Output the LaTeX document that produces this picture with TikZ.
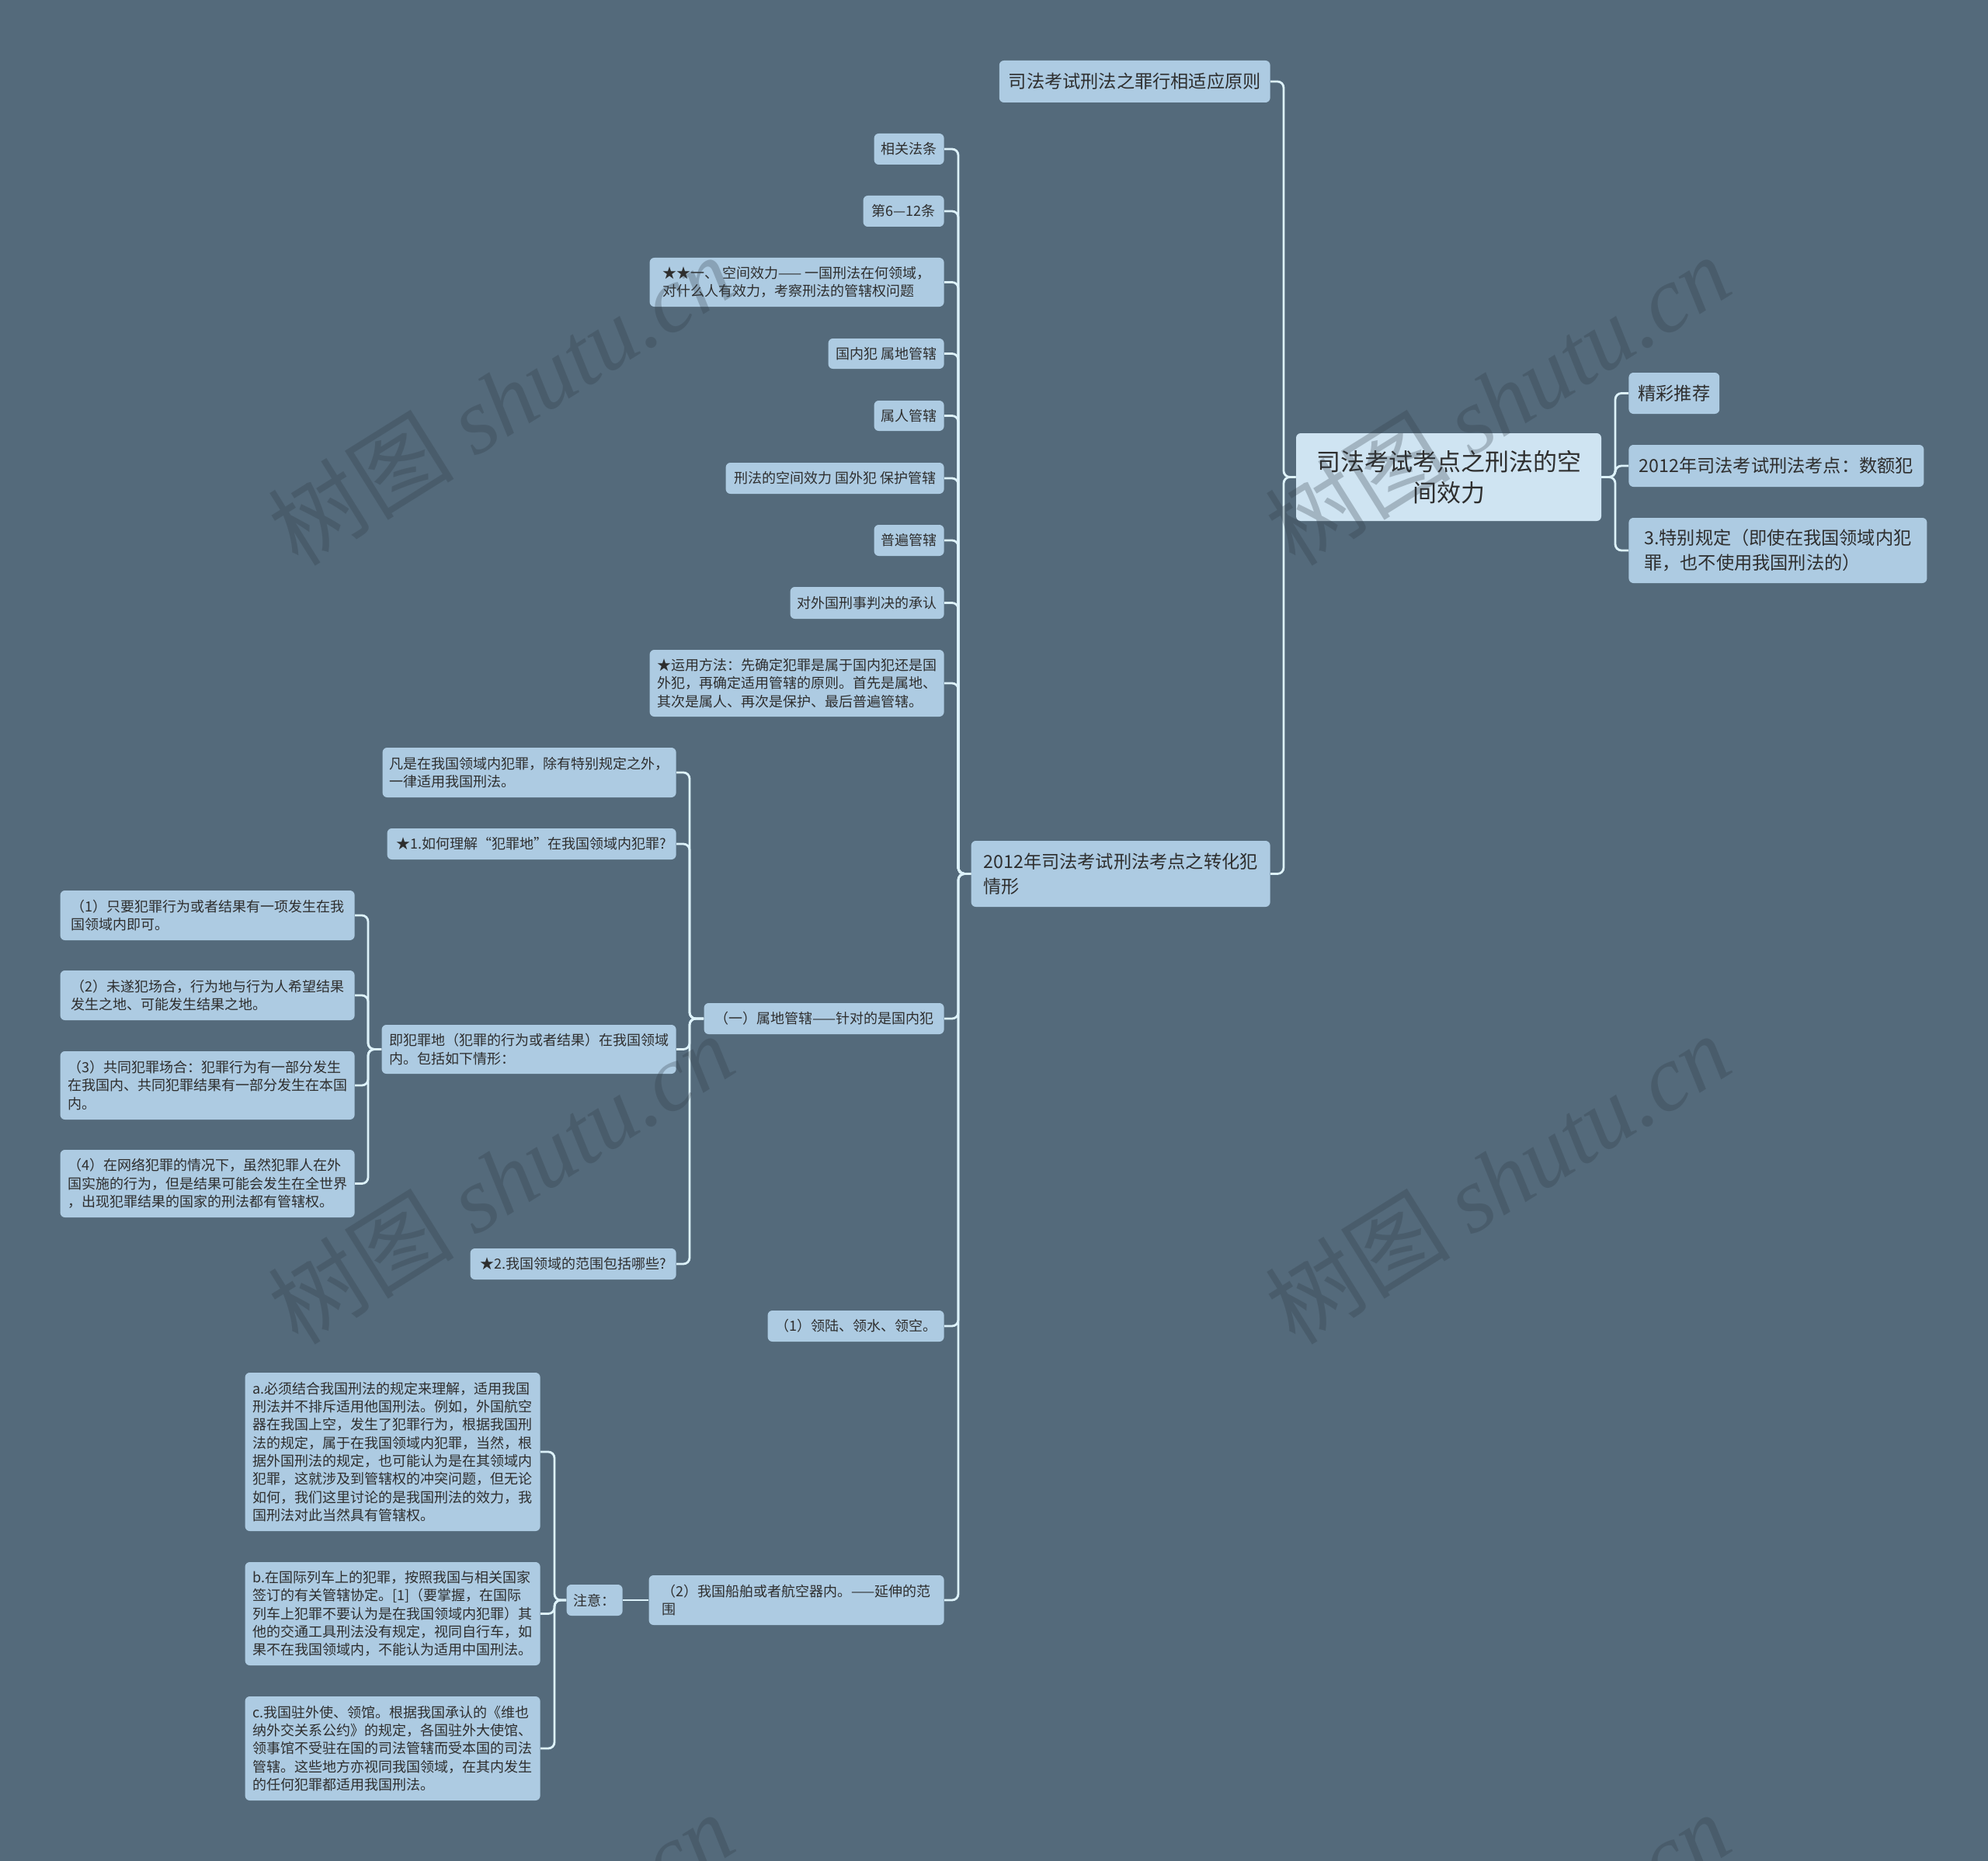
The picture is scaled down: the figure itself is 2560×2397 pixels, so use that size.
\documentclass[tikz,border=0pt]{standalone}
\usepackage{fontspec}
\setmainfont{Noto Sans CJK SC}
\newfontfamily\wmlatin{Liberation Serif}
\definecolor{bgc}{HTML}{546A7B}
\definecolor{nodec}{HTML}{ADCBE2}
\definecolor{rootc}{HTML}{CFE4F2}
\definecolor{linec}{HTML}{DDF2FA}
\definecolor{txtc}{HTML}{2E2E2E}
\definecolor{wmc}{HTML}{2F3B45}
\tikzset{
  box/.style={draw=none, fill=nodec, rounded corners=3pt, text=txtc, inner xsep=4.5pt, inner ysep=0pt, align=left},
  sm/.style={box, font=\fontsize{9pt}{11.65pt}\selectfont},
  md/.style={box, font=\fontsize{11.6pt}{15.85pt}\selectfont, inner xsep=6pt},
  rt/.style={box, fill=rootc, font=\fontsize{15.5pt}{20pt}\selectfont, align=center},
  sz/.style 2 args={minimum width=#1*0.5pt, minimum height=#2*0.5pt},
  conn/.style={draw=linec, line width=1.4pt, rounded corners=4pt},
  wm/.style={text=wmc, text opacity=0.28, font=\fontsize{60pt}{60pt}\selectfont, inner sep=0pt},
}
\begin{document}
\begin{tikzpicture}[x=0.5pt, y=-0.5pt]
\useasboundingbox (0,0) rectangle (2560,2397);
\clip (0,0) rectangle (2560,2397);
\fill[bgc] (0,0) rectangle (2560,2397);

% vertical connector lines
\coordinate (vR) at (2080,0);
\coordinate (vL1) at (1653,0);
\coordinate (vL2) at (1234,0);
\coordinate (vL3) at (888,0);
\coordinate (vL4) at (474,0);
\coordinate (vL5) at (714,0);

% root and right side
\node[rt, sz={393}{113}] (root) at (1865.5,614.5) {司法考试考点之刑法的空\\间效力};
\node[md, sz={115}{53}, anchor=west] (r1) at (2097,506.5) {精彩推荐};
\node[md, sz={380}{54}, anchor=west] (r2) at (2097,600) {2012年司法考试刑法考点：数额犯};
\node[md, sz={384}{84}, anchor=west] (r3) at (2097,709) {3.特别规定（即使在我国领域内犯\\罪，也不使用我国刑法的）};

% left level 1
\node[md, sz={348}{54}, anchor=east] (l1) at (1636,105) {司法考试刑法之罪行相适应原则};
\node[md, sz={385}{85}, anchor=east] (l2) at (1636,1125.5) {2012年司法考试刑法考点之转化犯\\情形};

% level 2
\node[sm, sz={89}{40}, anchor=east] (n1) at (1216,192) {相关法条};
\node[sm, sz={104}{40}, anchor=east] (n2) at (1216,272) {第6—12条};
\node[sm, sz={379}{63}, anchor=east] (n3) at (1216,363.5) {★★一、 空间效力—— 一国刑法在何领域，\\对什么人有效力，考察刑法的管辖权问题};
\node[sm, sz={149}{39}, anchor=east] (n4) at (1216,455.5) {国内犯 属地管辖};
\node[sm, sz={89}{39}, anchor=east] (n5) at (1216,535.5) {属人管辖};
\node[sm, sz={281}{40}, anchor=east] (n6) at (1216,616) {刑法的空间效力 国外犯 保护管辖};
\node[sm, sz={89}{40}, anchor=east] (n7) at (1216,696) {普遍管辖};
\node[sm, sz={198}{41}, anchor=east] (n8) at (1216,776.5) {对外国刑事判决的承认};
\node[sm, sz={379}{86}, anchor=east] (n9) at (1216,880) {★运用方法：先确定犯罪是属于国内犯还是国\\外犯，再确定适用管辖的原则。首先是属地、\\其次是属人、再次是保护、最后普遍管辖。};
\node[sm, sz={309}{40}, anchor=east] (n10) at (1216,1312) {（一）属地管辖——针对的是国内犯};
\node[sm, sz={227}{40}, anchor=east] (n11) at (1216,1708) {（1）领陆、领水、领空。};
\node[sm, sz={380}{64}, anchor=east] (n12) at (1216,2061) {（2）我国船舶或者航空器内。——延伸的范\\围};

% level 3
\node[sm, sz={378}{64}, anchor=east] (m1) at (871,995) {凡是在我国领域内犯罪，除有特别规定之外，\\一律适用我国刑法。};
\node[sm, sz={372}{40}, anchor=east] (m2) at (871,1087) {★1.如何理解“犯罪地”在我国领域内犯罪?};
\node[sm, sz={379}{63}, anchor=east] (m3) at (871,1351.5) {即犯罪地（犯罪的行为或者结果）在我国领域\\内。包括如下情形：};
\node[sm, sz={265}{40}, anchor=east] (m4) at (871,1628) {★2.我国领域的范围包括哪些?};

% level 4
\node[sm, sz={379}{64}, anchor=east] (k1) at (457,1179) {（1）只要犯罪行为或者结果有一项发生在我\\国领域内即可。};
\node[sm, sz={379}{64}, anchor=east] (k2) at (457,1282) {（2）未遂犯场合，行为地与行为人希望结果\\发生之地、可能发生结果之地。};
\node[sm, sz={379}{88}, anchor=east] (k3) at (457,1398) {（3）共同犯罪场合：犯罪行为有一部分发生\\在我国内、共同犯罪结果有一部分发生在本国\\内。};
\node[sm, sz={379}{87}, anchor=east] (k4) at (457,1524.5) {（4）在网络犯罪的情况下，虽然犯罪人在外\\国实施的行为，但是结果可能会发生在全世界\\，出现犯罪结果的国家的刑法都有管辖权。};

% notes
\node[sm, sz={72}{40}, anchor=east] (zy) at (802,2061) {注意：};
\node[sm, sz={380}{204}, anchor=east] (za) at (696,1870) {a.必须结合我国刑法的规定来理解，适用我国\\刑法并不排斥适用他国刑法。例如，外国航空\\器在我国上空，发生了犯罪行为，根据我国刑\\法的规定，属于在我国领域内犯罪，当然，根\\据外国刑法的规定，也可能认为是在其领域内\\犯罪，这就涉及到管辖权的冲突问题，但无论\\如何，我们这里讨论的是我国刑法的效力，我\\国刑法对此当然具有管辖权。};
\node[sm, sz={380}{133}, anchor=east] (zb) at (696,2078.5) {b.在国际列车上的犯罪，按照我国与相关国家\\签订的有关管辖协定。[1]（要掌握，在国际\\列车上犯罪不要认为是在我国领域内犯罪）其\\他的交通工具刑法没有规定，视同自行车，如\\果不在我国领域内，不能认为适用中国刑法。};
\node[sm, sz={380}{134}, anchor=east] (zc) at (696,2252) {c.我国驻外使、领馆。根据我国承认的《维也\\纳外交关系公约》的规定，各国驻外大使馆、\\领事馆不受驻在国的司法管辖而受本国的司法\\管辖。这些地方亦视同我国领域，在其内发生\\的任何犯罪都适用我国刑法。};

% connectors
\foreach \c in {r1,r2,r3} \draw[conn] (root.east) -- (root.east -| vR) |- (\c.west);
\foreach \c in {l1,l2} \draw[conn] (root.west) -- (root.west -| vL1) |- (\c.east);
\foreach \c in {n1,n2,n3,n4,n5,n6,n7,n8,n9,n10,n11,n12} \draw[conn] (l2.west) -- (l2.west -| vL2) |- (\c.east);
\foreach \c in {m1,m2,m3,m4} \draw[conn] (n10.west) -- (n10.west -| vL3) |- (\c.east);
\foreach \c in {k1,k2,k3,k4} \draw[conn] (m3.west) -- (m3.west -| vL4) |- (\c.east);
\draw[conn] (n12.west) -- (zy.east);
\foreach \c in {za,zb,zc} \draw[conn] (zy.west) -- (zy.west -| vL5) |- (\c.east);

% watermarks
\foreach \wx/\wy [count=\i] in {645/515, 1928/515, 645/1518, 1928/1518, 645/2521, 1928/2521}
  \node[wm, rotate=32] (w\i) at (\wx,\wy) {树图 {\wmlatin\itshape shutu.cn}};
\end{tikzpicture}
\end{document}
